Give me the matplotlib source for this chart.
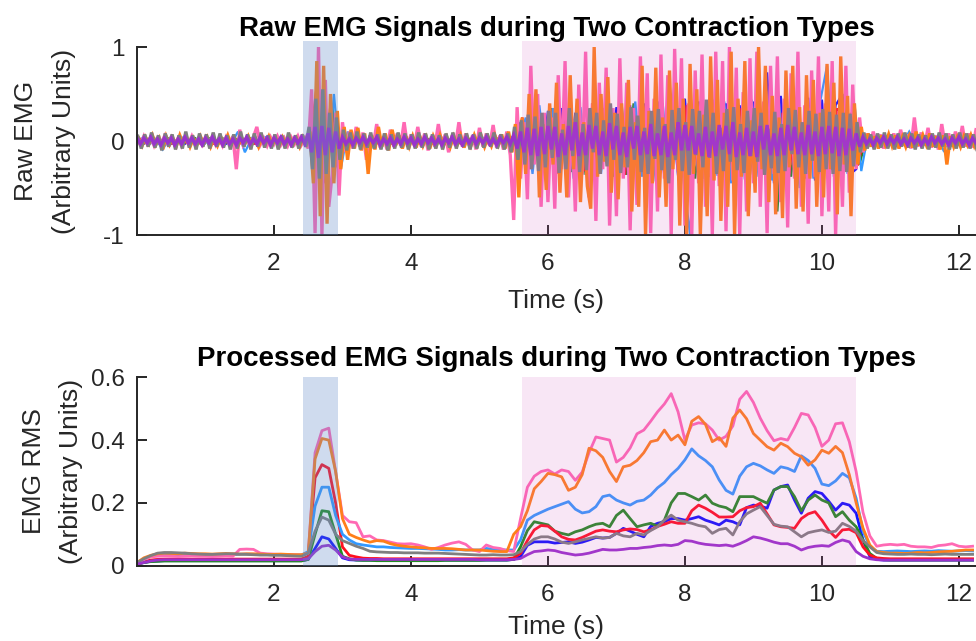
import numpy as np
import matplotlib
matplotlib.use("Agg")
import matplotlib.pyplot as plt
from matplotlib.patches import Rectangle

plt.rcParams['font.family'] = ['Liberation Sans', 'DejaVu Sans']

# ---------------- data ----------------
series_order = ["blue", "green", "red", "lightblue", "pink", "orange", "gray", "purple"]
series_colors = {
    "blue": "#1010FF", "green": "#228B22", "red": "#FF1020", "lightblue": "#3399FF",
    "pink": "#FF69B4", "orange": "#FF7F1A", "gray": "#7F7F7F", "purple": "#9932CC",
}

x_ticks = [2, 4, 6, 8, 10, 12]
raw_y_ticks = [-1, 0, 1]
rms_y_ticks = [0, 0.2, 0.4, 0.6]
blue_region = [2.42, 2.93]    # s
pink_region = [5.62, 10.50]   # s

raw_fine_step = 0.05    # s, sample spacing of main raw traces
raw_coarse_step = 0.1   # s, sample spacing of background raw traces
raw_start = {"pink": 0.0, "orange": 0.025, "gray": 0.0125, "purple": 0.0,
             "blue": 0.0, "green": 0.05, "red": 0.025, "lightblue": 0.075}
rms_step = 0.1          # s

# Raw EMG traces (hundredths of arbitrary units)
raw_pink = [
    2, -4, 5, -3, 4, -5, 3, -4, 5, -3, 4, -4, 3, -5, 4, -3, 5, -4, 3, -4,
    4, -3, 5, -4, 3, -5, 4, -3, 5, -30, 12, -4, 3, -5, 4, 15, -4, 3, -5, 4,
    -3, 5, -4, 3, -5, 4, -3, 5, -4, 3, -8, 55, -98, 100, -100, 65, -70, -35, 30, -58,
    20, -12, 10, -8, 15, -6, 9, -20, 6, -5, 18, -7, 5, -9, 12, -6, 8, -5, 20, -6,
    7, -5, 15, -6, 8, -10, 5, -6, 18, -5, 7, -12, 6, -5, 20, -6, 8, -5, 6, -9,
    14, -6, 8, -5, 17, -7, 6, -9, 10, -15, -84, 36, -40, 20, -62, 80, -25, 50, -70, 30,
    -65, 25, -72, 70, -30, 85, -60, 22, -75, 60, -35, 95, -60, 40, -85, 62, -30, 78, -90, 35,
    -80, 88, -40, 62, -95, 35, -68, 90, -30, 72, -98, 45, -75, 92, -40, 70, -100, 98, -32, 88,
    -90, 40, -100, 75, -45, 92, -70, 38, -100, 95, -48, 85, -96, 100, -42, 78, -100, 52, -75, 88,
    -45, 95, -70, 42, -98, 80, -35, 90, -65, 45, -92, 72, -40, 95, -70, 38, -88, 75, -38, 90,
    -80, 40, -75, 85, -100, 32, -70, 80, -55, 60, -30, 25, -12, 8, -6, 10, -5, 7, -8, 6,
    -5, 8, -6, 12, -5, 7, -8, 25, -6, 9, -5, 14, -7, 6, -9, 18, -5, 8, -6, 10,
    -5, 16, -6, 8, -7, 12,
]
raw_orange = [
    3, -5, 4, -3, 6, -4, 3, -9, 5, -4, 3, -5, 6, -3, 4, -6, 3, -4, 5, -3,
    4, -6, 3, -5, 4, -3, 6, -4, 3, -5, 4, -3, 5, -4, 3, -6, 4, -3, 5, -4,
    3, -5, 4, -3, 5, -4, 3, -6, 4, -3, 10, -45, 85, -80, 80, -88, 50, -45, 32, -30,
    15, -20, 12, -8, 14, -10, 8, -35, 6, -9, 15, -6, 8, -10, 12, -5, 6, -8, 5, -6,
    5, -7, 6, -5, 4, -8, 5, -4, 6, -5, 4, -6, 5, -4, 6, -7, 4, -5, 6, -4,
    5, -6, 4, -5, 6, -4, 7, -8, 10, -12, 18, -60, 25, -35, 50, -20, 55, -60, 18, -52,
    40, -25, 62, -55, 18, -60, 70, -30, 45, -65, 20, -48, -72, 100, -38, 50, -22, 68, -55, 30,
    -62, 40, -28, 65, -75, 20, -70, 80, -100, 32, -45, 78, -60, 25, -70, 75, -30, 62, -90, 45,
    -100, 82, -35, 55, -100, 28, -80, 90, -42, 65, -85, 30, -70, 95, -100, 45, -38, 85, -80, 22,
    -55, 100, -30, 80, -65, 48, -78, 25, -82, 75, -28, 80, -72, 36, -75, 70, -40, 65, -70, 30,
    -60, 82, -30, 62, -78, 90, -25, 48, -80, 40, -25, 15, -10, 8, -6, 5, -8, 6, -4, 7,
    -5, 6, -8, 4, -6, 5, -7, 10, -5, 6, -4, 8, -6, 5, -9, 6, -25, 5, -6, 4,
    -6, 5, -4, 6, -5, 4,
]
raw_gray = [
    5, -8, 7, -6, 9, -7, 6, -10, 8, -6, 7, -9, 6, -8, 10, -7, 6, -9, 8, -6,
    7, -8, 9, -6, 8, -7, 6, -9, 7, -8, 10, -6, 7, -9, 8, -6, 9, -7, 6, -8,
    7, -9, 6, -8, 9, -7, 6, -8, 7, -6, 15, -30, 45, -40, 55, -35, 30, -28, 25, -20,
    12, -10, 9, -8, 10, -9, 8, -7, 9, -8, 7, -9, 8, -10, 7, -8, 9, -7, 8, -9,
    7, -8, 9, -7, 8, -9, 7, -8, 6, -9, 8, -7, 9, -8, 7, -6, 8, -9, 7, -8,
    9, -7, 8, -6, 9, -8, 7, -9, 8, -12, 15, -20, 22, -25, 28, -30, 26, -32, 30, -28,
    32, -18, 30, -34, 12, -30, 35, -16, 30, -33, 18, -31, 35, -12, 30, -35, 22, -27, 40, -20,
    29, -34, 15, -28, 36, -20, 27, -33, 14, -35, 32, -19, 34, -31, 18, -45, 33, -20, 35, -32,
    20, -36, 34, -15, 32, -28, 44, -18, 30, -35, 14, -32, 34, -22, 36, -31, 18, -34, 32, -16,
    35, -22, 30, -36, 13, -29, 31, -34, 18, -32, 35, -14, 33, -28, 20, -35, 32, -21, 29, -33,
    34, -30, 31, -35, 28, -32, 30, -33, 29, -27, 20, -12, 9, -8, 7, -9, 8, -7, 9, -8,
    7, -9, 8, -6, 9, -7, 8, -9, 7, -8, 6, -9, 8, -7, 9, -6, 8, -9, 7, -8,
    9, -7, 8, -8, 7, -9,
]
raw_purple = [
    3, -3, 3, -2, 4, -3, 2, -4, 3, -2, 3, -4, 2, -3, 4, -2, 3, -3, 2, -4,
    3, -2, 4, -3, 2, -4, 3, -3, 2, -4, 3, -2, 4, -3, 2, -3, 4, -2, 3, -4,
    3, -2, 4, -3, 2, -4, 3, -2, 4, -3, 8, -12, 15, -18, 16, -15, 14, -12, 10, -8,
    4, -3, 2, -4, 3, -2, 4, -3, 3, -2, 4, -4, 2, -3, 3, -4, 2, -3, 4, -2,
    3, -4, 2, -3, 4, -2, 3, -3, 2, -4, 3, -2, 4, -3, 2, -4, 3, -2, 4, -3,
    3, -2, 4, -3, 2, -4, 3, -2, 4, -3, 6, -8, 10, -12, 14, -15, 13, -16, 15, -14,
    16, -9, 15, -17, 8, -15, 16, -10, 20, -16, 9, -15, 17, -8, 16, -15, 10, -16, 19, -9,
    16, -15, 9, -17, 15, -8, 16, -15, 10, -14, 18, -16, 8, -15, 16, -17, 9, -15, 20, -10,
    17, -10, 16, -14, 8, -16, 15, -17, 10, -16, 17, -9, 16, -14, 20, -17, 9, -15, 14, -16,
    10, -17, 16, -9, 17, -15, 8, -16, 14, -15, 17, -10, 15, -14, 9, -15, 17, -14, 10, -16,
    15, -14, 16, -13, 15, -16, 14, -15, 13, -10, 8, -6, 4, -3, 2, -4, 3, -2, 4, -3,
    3, -2, 4, -3, 2, -4, 3, -2, 3, -4, 2, -3, 4, -2, 3, -3, 2, -4, 3, -2,
    4, -3, 2, -4, 3, -2,
]
raw_lightblue = [
    3, -4, 2, -9, 3, -2, 4, -3, 2, -4,
    3, -4, 2, -3, 10, -12, 3, -2, 4, -3,
    2, -4, 3, -3, 4, -2, 40, -45, 50, -30,
    10, -4, 3, -2, 4, -3, 2, -4, 3, -2,
    3, -4, 2, -3, 4, -2, 3, -4, 2, -3,
    4, -3, 2, -3, 4, -8, 25, -35, 38, -30,
    35, -38, 30, -40, 36, -32, 42, -35, 38, -33,
    40, -36, 42, -38, 35, -43, 40, -36, 45, -38,
    -100, 42, -40, 45, -37, 42, -45, 38, -41, 44,
    -38, 46, -42, 40, -45, 37, -50, 48, -40, 42,
    80, -38, 45, -35, 40, -32, 8, -4, 3, -2,
    4, -3, 10, -4, 2, -3, 4, -10, 3, -2,
    4, -3, 2,
]
raw_green = [
    2, -3, 3, -2, 3, -3, 2, -3, 3, -2,
    3, -2, 3, -3, 2, -3, 3, -2, 3, -3,
    3, -2, 3, -3, 2, -3, 35, -40, 38, -25,
    4, -3, 3, -2, 3, -3, 2, -3, 3, -2,
    3, -3, 2, -3, 3, -2, 3, -3, 2, -3,
    3, -2, 3, -3, 2, -4, 20, -28, 32, -30,
    35, -30, 38, -33, 30, -36, 40, -32, 35, -38,
    33, -36, 40, -30, 38, -35, 42, -34, 65, -38,
    36, -40, 34, -38, 42, -33, 37, -40, 35, -36,
    38, -34, 40, -75, 36, -38, 33, -40, 37, -35,
    35, -30, 28, -32, 30, -25, 4, -3, 3, -2,
    3, -2, 3, -3, 2, -3, 3, -2, 3, -3,
    2, -3, 3,
]
raw_red = [
    3, -2, 3, -3, 2, -3, 3, -2, 3, -3,
    2, -3, 3, -2, 3, -3, 2, -3, 3, -2,
    3, -3, 2, -3, 3, -2, 60, -45, 40, -28,
    4, -3, 3, -2, 3, -3, 2, -3, 3, -2,
    3, -3, 2, -3, 3, -2, 3, -3, 2, -3,
    3, -2, 3, -3, 2, -3, 25, -30, 35, -32,
    30, -35, 33, -30, 36, -32, 30, -34, 35, -31,
    32, -36, 30, -34, 37, -30, 33, -35, 31, -36,
    38, -30, 35, -33, 40, -36, 32, -38, 35, -34,
    36, -32, 34, -38, 30, -35, 37, -33, 35, -30,
    33, -30, 35, -28, 30, -26, 4, -3, 2, -3,
    3, -2, 3, -3, 2, -3, 3, -2, 3, -3,
    2, -3, 3,
]
raw_blue = [
    2, -3, 3, -2, 3, -3, 2, -3, 3, -2,
    3, -3, 2, -3, 3, -2, 3, -3, 2, -3,
    3, -2, 3, -3, 2, -3, 25, -30, 28, -20,
    3, -3, 2, -3, 3, -2, 3, -3, 2, -3,
    3, -2, 3, -3, 2, -3, 3, -2, 3, -3,
    2, -3, 3, -2, 3, -3, 20, -25, 30, -28,
    32, -30, 35, -33, 30, -36, 34, -30, 33, -35,
    36, -33, 38, -35, 40, -36, 42, -38, 40, -37,
    45, -40, 42, -38, 44, -36, 40, -42, 38, -45,
    42, -40, 73, -45, 48, -42, 40, -44, 46, -42,
    44, -40, 38, 50, -36, -30, 4, -3, 3, -2,
    3, -2, 3, -3, 2, -3, 3, -2, 3, -3,
    2, -3, 3,
]

# RMS envelopes (thousandths of arbitrary units), one value every 0.1 s
rms_pink = [
    10, 20, 28, 30, 31, 30, 29, 30, 31, 30,
    30, 29, 30, 31, 30, 52, 53, 52, 40, 38,
    37, 36, 36, 35, 34, 40, 360, 430, 438, 300,
    160, 140, 137, 92, 95, 82, 80, 75, 70, 69,
    70, 66, 60, 52, 58, 66, 72, 76, 68, 50,
    45, 66, 58, 55, 48, 45, 150, 250, 285, 300,
    305, 292, 305, 300, 272, 298, 360, 410, 405, 400,
    330, 345, 375, 420, 432, 460, 490, 515, 548, 490,
    400, 448, 455, 452, 432, 400, 412, 445, 530, 555,
    520, 470, 430, 398, 405, 400, 440, 485, 480, 440,
    380, 400, 452, 455, 395, 300, 170, 95, 62, 66,
    68, 66, 68, 62, 60, 60, 58, 64, 66, 70,
    62, 60, 62,
]
rms_orange = [
    10, 25, 33, 38, 40, 39, 38, 40, 39, 38,
    38, 37, 38, 39, 38, 37, 38, 38, 37, 36,
    36, 37, 36, 35, 35, 40, 340, 405, 400, 300,
    150, 100, 90, 82, 75, 80, 78, 70, 65, 62,
    60, 58, 57, 55, 55, 55, 54, 52, 50, 50,
    50, 48, 46, 45, 45, 100, 124, 175, 245, 268,
    294, 290, 283, 240, 250, 290, 374, 366, 345, 300,
    268, 315, 320, 335, 360, 395, 400, 432, 400, 416,
    385, 460, 475, 450, 395, 408, 380, 470, 496, 468,
    421, 400, 379, 368, 390, 379, 358, 347, 320, 337,
    368, 358, 380, 360, 290, 200, 120, 66, 45, 42,
    40, 40, 39, 40, 42, 41, 42, 44, 45, 46,
    48, 50, 50,
]
rms_lightblue = [
    8, 20, 30, 34, 35, 36, 35, 36, 35, 34,
    35, 36, 35, 34, 35, 36, 37, 36, 35, 35,
    35, 35, 34, 34, 34, 45, 190, 250, 250, 160,
    100, 82, 70, 66, 63, 60, 60, 58, 57, 56,
    55, 55, 54, 53, 52, 50, 50, 51, 50, 50,
    50, 55, 52, 50, 50, 50, 82, 145, 160, 170,
    180, 188, 196, 204, 180, 168, 172, 188, 220, 225,
    209, 200, 193, 205, 209, 225, 248, 265, 290, 310,
    337, 372, 350, 335, 315, 273, 240, 228, 285, 315,
    326, 318, 305, 294, 315, 310, 300, 350, 335, 310,
    260, 255, 270, 294, 280, 215, 110, 62, 46, 45,
    46, 47, 46, 45, 46, 47, 46, 48, 47, 46,
    47, 48, 47,
]
rms_green = [
    5, 10, 13, 14, 15, 15, 15, 15, 15, 15,
    15, 15, 15, 15, 15, 15, 15, 15, 15, 15,
    15, 15, 15, 15, 15, 20, 100, 175, 172, 100,
    30, 22, 18, 17, 17, 16, 16, 16, 16, 16,
    16, 16, 16, 16, 16, 17, 17, 17, 17, 17,
    17, 18, 18, 18, 18, 20, 60, 112, 140, 135,
    130, 110, 103, 98, 108, 114, 124, 132, 135, 124,
    160, 177, 150, 124, 130, 135, 126, 145, 200, 230,
    230, 220, 209, 225, 199, 190, 185, 172, 220, 220,
    220, 209, 199, 241, 252, 252, 220, 175, 209, 225,
    209, 200, 156, 172, 145, 124, 82, 39, 23, 19,
    18, 18, 18, 18, 18, 18, 18, 18, 18, 18,
    18, 18, 18,
]
rms_blue = [
    5, 10, 14, 15, 16, 16, 16, 16, 16, 16,
    16, 16, 16, 16, 16, 16, 16, 16, 16, 16,
    16, 16, 16, 16, 16, 20, 55, 92, 85, 55,
    25, 19, 18, 18, 18, 18, 18, 18, 18, 18,
    18, 18, 18, 18, 18, 18, 18, 18, 18, 18,
    18, 18, 18, 18, 18, 20, 29, 65, 76, 76,
    76, 72, 74, 76, 71, 75, 82, 90, 88, 90,
    103, 119, 110, 100, 92, 125, 135, 140, 150, 150,
    145, 150, 156, 145, 138, 130, 145, 140, 130, 185,
    193, 190, 183, 241, 252, 257, 209, 167, 215, 236,
    230, 205, 177, 199, 193, 167, 82, 29, 20, 18,
    18, 18, 18, 18, 18, 18, 18, 18, 18, 18,
    18, 18, 18,
]
rms_red = [
    5, 12, 18, 20, 21, 21, 21, 21, 21, 21,
    21, 21, 21, 21, 21, 21, 21, 21, 21, 21,
    21, 21, 21, 21, 21, 30, 280, 322, 310, 200,
    60, 33, 28, 24, 23, 23, 22, 22, 22, 22,
    22, 22, 22, 22, 22, 22, 22, 22, 22, 22,
    22, 22, 22, 22, 22, 25, 39, 80, 114, 128,
    126, 110, 92, 84, 82, 90, 100, 110, 114, 110,
    108, 114, 117, 115, 108, 114, 125, 132, 140, 135,
    135, 175, 193, 183, 170, 155, 155, 156, 175, 185,
    188, 199, 165, 130, 124, 122, 119, 150, 165, 172,
    145, 112, 90, 114, 116, 105, 60, 34, 25, 23,
    22, 22, 22, 22, 22, 22, 22, 22, 22, 22,
    22, 22, 22,
]
rms_gray = [
    10, 22, 32, 40, 42, 42, 41, 40, 38, 37,
    36, 36, 37, 38, 38, 37, 36, 35, 34, 34,
    33, 33, 32, 31, 30, 40, 110, 155, 145, 100,
    80, 71, 62, 55, 46, 44, 43, 42, 42, 41,
    41, 41, 40, 40, 40, 39, 38, 37, 36, 35,
    34, 34, 35, 34, 34, 35, 45, 68, 85, 92,
    92, 85, 75, 71, 76, 82, 87, 92, 88, 90,
    103, 95, 92, 103, 98, 112, 124, 145, 161, 145,
    140, 135, 128, 124, 103, 115, 119, 98, 140, 165,
    177, 188, 160, 132, 126, 124, 108, 92, 105, 110,
    114, 106, 110, 135, 125, 110, 80, 60, 42, 38,
    37, 36, 36, 37, 36, 36, 35, 36, 37, 36,
    36, 36, 36,
]
rms_purple = [
    5, 10, 15, 18, 19, 19, 19, 19, 19, 19,
    19, 19, 19, 19, 19, 19, 19, 19, 19, 19,
    19, 19, 19, 19, 19, 22, 45, 62, 65, 50,
    28, 21, 20, 20, 20, 20, 20, 20, 20, 20,
    20, 20, 20, 20, 20, 20, 20, 20, 20, 20,
    19, 19, 19, 19, 19, 20, 23, 35, 45, 47,
    50, 48, 42, 38, 34, 36, 40, 46, 52, 50,
    50, 52, 55, 55, 58, 60, 64, 66, 64, 68,
    80, 78, 72, 68, 66, 64, 66, 62, 70, 80,
    92, 88, 82, 75, 70, 70, 62, 50, 58, 62,
    64, 62, 74, 82, 76, 45, 30, 22, 19, 18,
    18, 18, 18, 18, 18, 18, 18, 18, 18, 18,
    18, 18, 18,
]

raw_data = {
    "blue": (raw_blue, raw_coarse_step), "green": (raw_green, raw_coarse_step),
    "red": (raw_red, raw_coarse_step), "lightblue": (raw_lightblue, raw_coarse_step),
    "pink": (raw_pink, raw_fine_step), "orange": (raw_orange, raw_fine_step),
    "gray": (raw_gray, raw_fine_step), "purple": (raw_purple, raw_fine_step),
}
rms_data = {
    "blue": rms_blue, "green": rms_green, "red": rms_red, "lightblue": rms_lightblue,
    "pink": rms_pink, "orange": rms_orange, "gray": rms_gray, "purple": rms_purple,
}

# ---------------- figure ----------------
W, H = 976, 641
fig = plt.figure(figsize=(W / 100, H / 100), dpi=100)
ax1 = fig.add_axes([137 / W, 1 - 235 / H, 839 / W, 188 / H])
ax2 = fig.add_axes([137 / W, 1 - 565.7 / H, 839 / W, 188.4 / H])

for name in series_order:
    vals, step = raw_data[name]
    v = np.array(vals) / 100.0
    t = raw_start[name] + np.arange(len(v)) * step
    lw = 2.4 if step == raw_fine_step else 1.6
    ax1.plot(t, v, color=series_colors[name], lw=lw, zorder=2, solid_joinstyle='miter')

for name in series_order:
    v = np.array(rms_data[name]) / 1000.0
    t = np.arange(len(v)) * rms_step
    ax2.plot(t, v, color=series_colors[name], lw=2.0, zorder=2)

BLUE_PATCH = (0.38, 0.54, 0.78)
PINK_PATCH = (0.84, 0.35, 0.76)

def shade(ax, y0, y1):
    ax.add_patch(Rectangle((blue_region[0], y0), blue_region[1] - blue_region[0], y1 - y0,
                           facecolor=BLUE_PATCH, alpha=0.3, edgecolor='none',
                           zorder=3, clip_on=False))
    ax.add_patch(Rectangle((pink_region[0], y0), pink_region[1] - pink_region[0], y1 - y0,
                           facecolor=PINK_PATCH, alpha=0.15, edgecolor='none',
                           zorder=3, clip_on=False))

shade(ax1, -1, 1.065)
shade(ax2, 0, 0.6)

TXT = '#262626'
for ax in (ax1, ax2):
    ax.set_xlim(0, 12.25)
    ax.set_xticks(x_ticks)
    ax.spines['top'].set_visible(False)
    ax.spines['right'].set_visible(False)
    for s in ('left', 'bottom'):
        ax.spines[s].set_linewidth(1.4)
        ax.spines[s].set_color(TXT)
    ax.tick_params(direction='in', length=7, width=1.4, color=TXT,
                   labelsize=17.5, labelcolor=TXT, pad=9)
    ax.tick_params(axis='x', pad=13)
    ax.set_xlabel('Time (s)', fontsize=19, color=TXT)

ax1.xaxis.set_label_coords(0.5, -0.285)
ax2.xaxis.set_label_coords(0.5, -0.26)

ax1.set_ylim(-1, 1)
ax1.set_yticks(raw_y_ticks)
ax1.set_yticklabels([str(v) for v in raw_y_ticks])
ax2.set_ylim(0, 0.6)
ax2.set_yticks(rms_y_ticks)
ax2.set_yticklabels(['0', '0.2', '0.4', '0.6'])

ax1.set_ylabel('Raw EMG\n(Arbitrary Units)', fontsize=19, color=TXT, linespacing=1.7)
ax1.yaxis.set_label_coords(-0.073, 0.5)
ax2.set_ylabel('EMG RMS\n(Arbitrary Units)', fontsize=19, color=TXT, linespacing=1.7)
ax2.yaxis.set_label_coords(-0.064, 0.5)

ax1.set_title('Raw EMG Signals during Two Contraction Types', fontsize=19.9,
              fontweight='bold', pad=8)
ax2.set_title('Processed EMG Signals during Two Contraction Types', fontsize=19.9,
              fontweight='bold', pad=8)

fig.savefig('out.png', dpi=100)
